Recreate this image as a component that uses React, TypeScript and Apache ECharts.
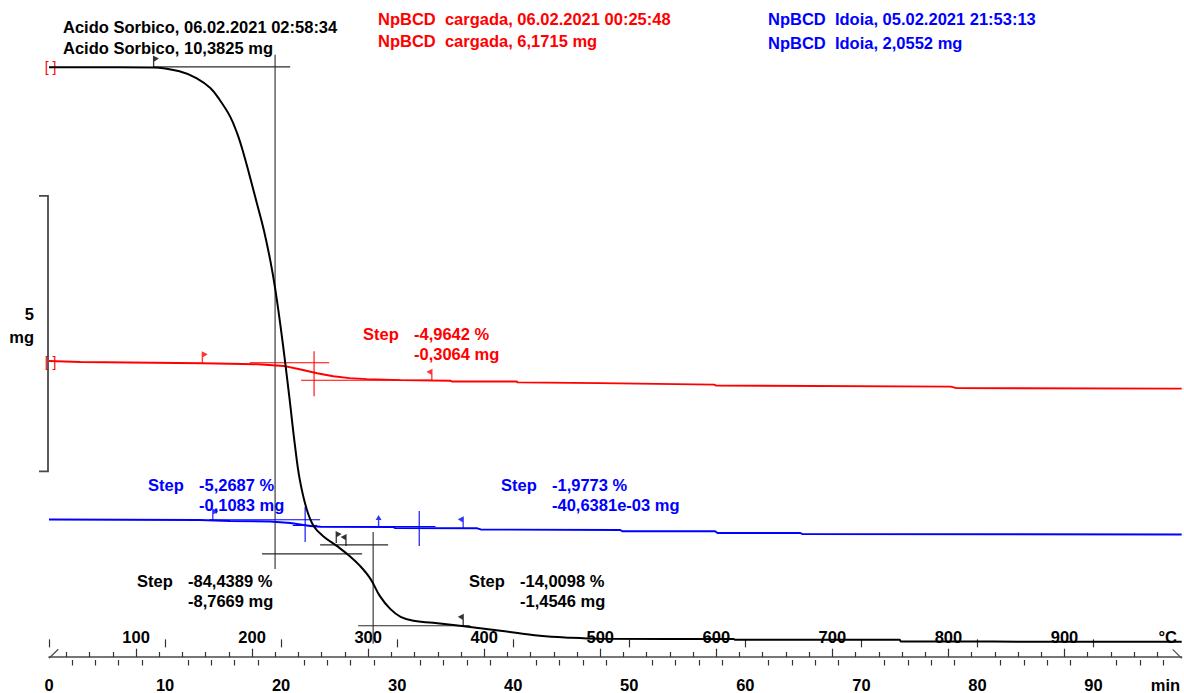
import React, { useEffect, useRef } from 'react';
import * as echarts from 'echarts';

// ---------------- data ----------------
// time in min, mass in mg
const blackTime = [0, 9.0, 11.3, 12.7, 13.9, 14.7, 15.6, 16.2, 16.75, 17.3, 17.9, 18.5, 19.05, 19.5, 20.1, 20.7, 21.2, 21.6, 22.2, 22.8, 23.6, 24.8, 25.9, 26.8, 27.7, 28.5, 29.4, 30.3, 31.4, 33.1, 35.4, 38.9, 42.3, 44.9, 47.5, 59.0, 59.1, 73.3, 73.4, 97.6];
const blackMass = [10.382, 10.379, 10.306, 10.187, 10.005, 9.793, 9.491, 9.19, 8.828, 8.404, 7.922, 7.438, 6.895, 6.351, 5.446, 4.413, 3.507, 2.909, 2.366, 2.058, 1.877, 1.696, 1.514, 1.333, 1.098, 0.79, 0.554, 0.409, 0.337, 0.301, 0.246, 0.156, 0.065, 0.029, 0.011, 0.005, -0.007, -0.007, -0.038, -0.043];

const redTime = [0, 2.7, 13.2, 18.0, 20.2, 21.6, 23.1, 24.5, 25.9, 27.4, 30.3, 34.6, 34.7, 40.3, 40.4, 47.4, 57.3, 57.5, 77.7, 78.2, 97.6];
const redMass = [6.171, 6.154, 6.131, 6.113, 6.082, 6.022, 5.95, 5.896, 5.86, 5.843, 5.825, 5.812, 5.801, 5.801, 5.783, 5.77, 5.743, 5.725, 5.707, 5.68, 5.671];

const blueTime = [0, 13.0, 15.6, 19.05, 20.8, 22.5, 23.4, 29.7, 29.8, 36.9, 37.2, 39.5, 49.2, 49.4, 57.4, 57.6, 64.7, 64.9, 97.6];
const blueMass = [2.055, 2.046, 2.028, 2.019, 1.991, 1.937, 1.924, 1.919, 1.901, 1.895, 1.874, 1.87, 1.865, 1.841, 1.841, 1.81, 1.81, 1.792, 1.783];

// vertical display offsets of each curve (mg)
const blackOffset = 0;
const redOffset = -1.12;
const blueOffset = 0.121;

// step evaluation construction lines [t1, m1, t2, m2] in each curve's mass units
const blackStepLines = [
  [19.48, 10.61, 19.48, 1.279],
  [9.0, 10.39, 20.78, 10.39],
  [18.36, 1.551, 26.98, 1.551],
  [27.93, 1.949, 27.93, -0.08],
  [23.36, 1.714, 29.22, 1.714],
  [26.64, 0.246, 36.29, 0.246],
];
const redStepLines = [
  [22.84, 6.348, 22.84, 5.533],
  [17.3, 6.14, 24.14, 6.14],
  [21.72, 5.823, 33.0, 5.823],
];
const blueStepLines = [
  [22.07, 2.281, 22.07, 1.647],
  [13.8, 2.051, 23.36, 2.051],
  [21.0, 1.946, 23.1, 1.946],
  [31.9, 2.209, 31.9, 1.575],
  [28.4, 1.928, 33.3, 1.928],
  [30.6, 1.892, 35.7, 1.892],
];

// limit flags [t, mass, direction]
const blackFlags: [number, number, string][] = [[9.0, 10.379, 'right'], [24.74, 1.75, 'right'], [25.6, 1.696, 'left'], [35.7, 0.246, 'left']];
const redFlags: [number, number, string][] = [[13.2, 6.131, 'right'], [33.0, 5.812, 'left']];
const blueFlags: [number, number, string][] = [[14.1, 2.04, 'right'], [28.4, 1.92, 'up'], [35.7, 1.895, 'left']];

// 5 mg scale bar (mg)
const scaleBarFrom = 3.05;
const scaleBarSize = 5;

// axis ticks / labels
const timeMajor = [0, 10, 20, 30, 40, 50, 60, 70, 80, 90];
const timeMinor = [2, 4, 6, 8, 12, 14, 16, 18, 22, 24, 26, 28, 32, 34, 36, 38, 42, 44, 46, 48, 52, 54, 56, 58, 62, 64, 66, 68, 72, 74, 76, 78, 82, 84, 86, 88, 92, 94, 96];
const tempMajor = [100, 200, 300, 400, 500, 600, 700, 800, 900];
const tempMinor = [40, 60, 80, 120, 140, 160, 180, 220, 240, 260, 280, 320, 340, 360, 380, 420, 440, 460, 480, 520, 540, 560, 580, 620, 640, 660, 680, 720, 740, 760, 780, 820, 840, 860, 880, 920, 940, 960, 980];

// texts
const headerBlack = ['Acido Sorbico, 06.02.2021 02:58:34', 'Acido Sorbico, 10,3825 mg'];
const headerRed = ['NpBCD  cargada, 06.02.2021 00:25:48', 'NpBCD  cargada, 6,1715 mg'];
const headerBlue = ['NpBCD  Idoia, 05.02.2021 21:53:13', 'NpBCD  Idoia, 2,0552 mg'];
const stepBlack1 = ['-84,4389 %', '-8,7669 mg'];
const stepBlack2 = ['-14,0098 %', '-1,4546 mg'];
const stepRed1 = ['-4,9642 %', '-0,3064 mg'];
const stepBlue1 = ['-5,2687 %', '-0,1083 mg'];
const stepBlue2 = ['-1,9773 %', '-40,6381e-03 mg'];

// ---------------- layout / style ----------------
const W = 1184;
const H = 693;
const T_MAX = 97.6;
const TEMP_START = 25;
const RATE = 10; // K/min
const Y_MIN = -0.32;
const Y_MAX = 11.24;
const FONT = '"Liberation Sans", Arial, sans-serif';
const BOLD = `bold 16.5px ${FONT}`;
const BLACK = '#000000';
const RED = '#ff0000';
const BLUE = '#0000ff';
const GREY = '#4a4a4a';

const FLAG_PATHS: Record<string, string> = {
  right: 'path://M0,0 L6,3 L1.3,6 L1.3,12 L0,12 Z',
  left: 'path://M6,0 L0,3 L4.7,6 L4.7,12 L6,12 Z',
  up: 'path://M3,0 L6,5 L3.7,5 L3.7,12 L2.3,12 L2.3,5 L0,5 Z',
};
const FLAG_OFFSETS: Record<string, number[]> = { right: [2.5, -6], left: [-2.5, -6], up: [0, -6] };

function curve(time: number[], mass: number[], offset: number) {
  return time.map((t, i) => [t, +(mass[i] + offset).toFixed(4)]);
}

function segSeries(lines: number[][], offset: number, color: string) {
  return lines.map((s) => ({
    type: 'line',
    data: [[s[0], s[1] + offset], [s[2], s[3] + offset]],
    showSymbol: false,
    silent: true,
    clip: false,
    lineStyle: { color, width: 1.1 },
    z: 3,
  }));
}

function flagSeries(flags: [number, number, string][], offset: number, color: string) {
  return {
    type: 'scatter',
    silent: true,
    z: 6,
    itemStyle: { color },
    data: flags.map((f) => ({
      value: [f[0], f[1] + offset],
      symbol: FLAG_PATHS[f[2]],
      symbolSize: [6, 12],
      symbolOffset: FLAG_OFFSETS[f[2]],
    })),
  };
}

function txt(text: string, x: number, y: number, fill: string, align = 'left', font = BOLD) {
  return { type: 'text', x, y, silent: true, style: { text, fill, font, align, verticalAlign: 'middle' } };
}

function stepText(vals: string[], x: number, y: number, fill: string) {
  return [
    txt('Step', x, y, fill),
    txt(vals[0], x + 51, y, fill),
    txt(vals[1], x + 51, y + 20, fill),
  ];
}

export default function App() {
  const ref = useRef<HTMLDivElement>(null);
  useEffect(() => {
    const chart = echarts.init(ref.current!, null, { renderer: 'svg' });
    const axisBase = {
      type: 'value',
      position: 'bottom',
      gridIndex: 0,
      splitLine: { show: false },
    };
    const labelFont = { fontFamily: FONT, fontWeight: 'bold', fontSize: 16.5, color: BLACK };
    const graphics: any[] = [
      txt(headerBlack[0], 63, 27, BLACK),
      txt(headerBlack[1], 63, 48, BLACK),
      txt(headerRed[0], 378, 19, RED),
      txt(headerRed[1], 378, 41, RED),
      txt(headerBlue[0], 768, 19, BLUE),
      txt(headerBlue[1], 768, 43, BLUE),
      ...stepText(stepRed1, 363, 334, RED),
      ...stepText(stepBlue1, 148, 485, BLUE),
      ...stepText(stepBlue2, 501, 485, BLUE),
      ...stepText(stepBlack1, 137, 581, BLACK),
      ...stepText(stepBlack2, 469, 581, BLACK),
      txt('5', 34, 314, BLACK, 'right'),
      txt('mg', 34, 337, BLACK, 'right'),
      txt('[ ]', 50.5, 67, RED, 'center', `14px ${FONT}`),
      txt('[ ]', 50.5, 361.5, RED, 'center', `14px ${FONT}`),
      { type: 'line', silent: true, shape: { x1: 49, y1: 658.3, x2: 58.3, y2: 649.3 }, style: { stroke: GREY, lineWidth: 1.2 } },
      { type: 'line', silent: true, shape: { x1: 1172.7, y1: 649.3, x2: 1181.7, y2: 658.3 }, style: { stroke: GREY, lineWidth: 1.2 } },
    ];
    const option: any = {
      animation: false,
      backgroundColor: '#ffffff',
      grid: { left: 49, right: 2.3, top: 20, bottom: 34.7, containLabel: false },
      xAxis: [
        {
          ...axisBase,
          min: 0,
          max: T_MAX,
          offset: 3,
          axisLine: { show: false },
          axisTick: { show: true, customValues: timeMajor, length: 8, lineStyle: { color: '#333', width: 1.2 } },
          axisLabel: {
            show: true,
            customValues: [...timeMajor, 96.2],
            formatter: (v: number) => (v > 95 ? 'min' : String(v)),
            margin: 16,
            ...labelFont,
          },
        },
        {
          ...axisBase,
          min: 0,
          max: T_MAX,
          offset: 3,
          axisLine: { show: false },
          axisTick: { show: true, customValues: timeMinor, length: 5.5, lineStyle: { color: '#333', width: 1.2 } },
          axisLabel: { show: false },
        },
        {
          ...axisBase,
          min: TEMP_START,
          max: TEMP_START + RATE * T_MAX,
          axisLine: { show: true, lineStyle: { color: GREY, width: 1.5 } },
          axisTick: { show: true, inside: true, customValues: tempMajor, length: 8.3, lineStyle: { color: '#333', width: 1.2 } },
          axisLabel: {
            show: true,
            inside: true,
            customValues: [...tempMajor, 989],
            formatter: (v: number) => (v > 950 ? '°C' : String(v)),
            margin: 12,
            ...labelFont,
          },
        },
        {
          ...axisBase,
          min: TEMP_START,
          max: TEMP_START + RATE * T_MAX,
          axisLine: { show: false },
          axisTick: { show: true, inside: true, customValues: tempMinor, length: 5, lineStyle: { color: '#333', width: 1.2 } },
          axisLabel: { show: false },
        },
      ],
      yAxis: { type: 'value', min: Y_MIN, max: Y_MAX, show: false },
      series: [
        ...segSeries(blackStepLines, blackOffset, '#2a2a2a'),
        ...segSeries(redStepLines, redOffset, RED),
        ...segSeries(blueStepLines, blueOffset, BLUE),
        {
          type: 'line',
          name: 'NpBCD Idoia',
          data: curve(blueTime, blueMass, blueOffset),
          showSymbol: false,
          silent: true,
          lineStyle: { color: BLUE, width: 1.9 },
          z: 4,
        },
        {
          type: 'line',
          name: 'NpBCD cargada',
          data: curve(redTime, redMass, redOffset),
          showSymbol: false,
          silent: true,
          lineStyle: { color: RED, width: 1.9 },
          z: 4,
        },
        {
          type: 'line',
          name: 'Acido Sorbico',
          data: curve(blackTime, blackMass, blackOffset),
          showSymbol: false,
          silent: true,
          smooth: 0.4,
          lineStyle: { color: BLACK, width: 2 },
          z: 5,
        },
        flagSeries(blackFlags, blackOffset, BLACK),
        flagSeries(redFlags, redOffset, RED),
        flagSeries(blueFlags, blueOffset, BLUE),
      ],
      graphic: graphics,
    };
    chart.setOption(option);

    // 5 mg scale bar, placed through the chart's own scales
    const xs = 0; // time at the bar
    const pBottom = chart.convertToPixel({ xAxisIndex: 0, yAxisIndex: 0 }, [xs, scaleBarFrom]) as number[];
    const pTop = chart.convertToPixel({ xAxisIndex: 0, yAxisIndex: 0 }, [xs, scaleBarFrom + scaleBarSize]) as number[];
    const bx = pBottom[0] - 1;
    chart.setOption({
      graphic: [
        ...graphics,
        {
          type: 'polyline',
          silent: true,
          shape: { points: [[bx - 9, pTop[1]], [bx, pTop[1]], [bx, pBottom[1]], [bx - 9, pBottom[1]]] },
          style: { stroke: GREY, lineWidth: 1.8, fill: 'none' },
        },
      ],
    });
    return () => chart.dispose();
  }, []);
  return <div ref={ref} style={{ position: 'fixed', left: 0, top: 0, width: W, height: H, background: '#fff' }} />;
}
